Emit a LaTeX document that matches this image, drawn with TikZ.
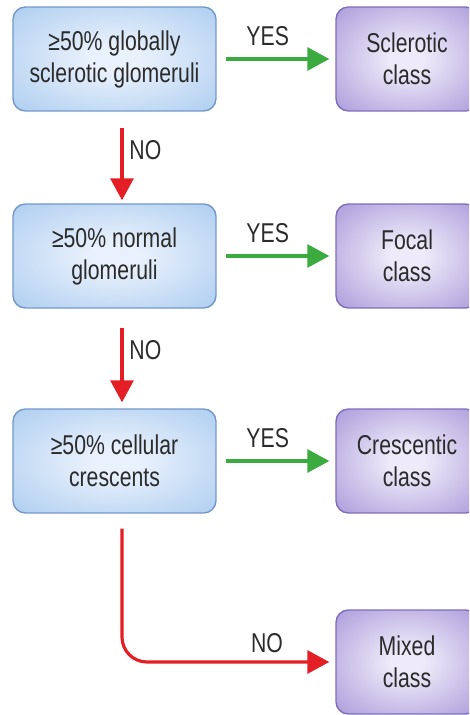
\documentclass[tikz,border=0pt]{standalone}
\usepackage{fontspec}
\setmainfont[FakeStretch=0.78]{Liberation Sans}
\usetikzlibrary{arrows.meta}
\definecolor{testin}{HTML}{E9F1FC}
\definecolor{testout}{HTML}{A9CBEF}
\definecolor{testedge}{HTML}{7397CB}
\definecolor{classin}{HTML}{EEEAF9}
\definecolor{classout}{HTML}{A696D8}
\definecolor{classedge}{HTML}{7E6DBB}
\definecolor{yesgreen}{HTML}{3BAA3F}
\definecolor{nored}{HTML}{E31E24}
\definecolor{txt}{HTML}{2B2B2B}
% soft centre fading to the rim
\pgfdeclareradialshading{testshade}{\pgfpoint{0bp}{0bp}}{color(0bp)=(testin); color(6bp)=(testin); color(38bp)=(testout); color(72bp)=(testout)}
\pgfdeclareradialshading{classshade}{\pgfpoint{0bp}{0bp}}{color(0bp)=(classin); color(6bp)=(classin); color(38bp)=(classout); color(72bp)=(classout)}
\begin{document}
\begin{tikzpicture}[x=0.02cm, y=0.02cm,
  test/.style={draw=testedge, line width=0.8pt, rounded corners=7pt, shading=testshade,
    minimum width=4.06cm, minimum height=2.08cm,
    align=center, text=txt, font=\fontsize{15.5}{18.2}\selectfont},
  result/.style={test, draw=classedge, shading=classshade, minimum width=2.84cm},
  yes/.style={draw=yesgreen, line width=1.8pt, -{Triangle[length=0.44cm, width=0.46cm]},
    shorten <=0.18cm, shorten >=0.12cm},
  no/.style={yes, draw=nored, shorten <=0.32cm, shorten >=0.06cm},
  lbl/.style={text=txt, font=\fontsize{15.5}{18}\selectfont}]
\useasboundingbox (0,0) rectangle (469,-715);
\clip (0,0) rectangle (469,-715);
% questions
\node[test] (q1) at (114.5,-59) {≥50\% globally\\sclerotic glomeruli};
\node[test] (q2) at (114.5,-256) {≥50\% normal\\glomeruli};
\node[test] (q3) at (114.5,-461) {≥50\% cellular\\crescents};
% classes
\node[result] (c1) at (407,-59) {Sclerotic\\class};
\node[result] (c2) at (407,-256) {Focal\\class};
\node[result] (c3) at (407,-461) {Crescentic\\class};
\node[result] (c4) at (407,-662) {Mixed\\class};
% yes branches
\draw[yes] (q1) -- node[lbl, above=3.5pt, pos=0.43] {YES} (c1);
\draw[yes] (q2) -- node[lbl, above=3.5pt, pos=0.43] {YES} (c2);
\draw[yes] (q3) -- node[lbl, above=3.5pt, pos=0.43] {YES} (c3);
% no branches
\draw[no] ([xshift=0.15cm]q1.south) -- node[lbl, right=0pt, pos=0.42] {NO} ([xshift=0.15cm]q2.north);
\draw[no, shorten <=0.38cm, shorten >=0.12cm] ([xshift=0.15cm]q2.south) -- node[lbl, right=0pt, pos=0.42] {NO} ([xshift=0.15cm]q3.north);
\draw[no, rounded corners=0.5cm, shorten <=0.3cm, shorten >=0.12cm] ([xshift=0.15cm]q3.south) |- node[lbl, above=1pt, pos=0.84] {NO} (c4);
\end{tikzpicture}
\end{document}
